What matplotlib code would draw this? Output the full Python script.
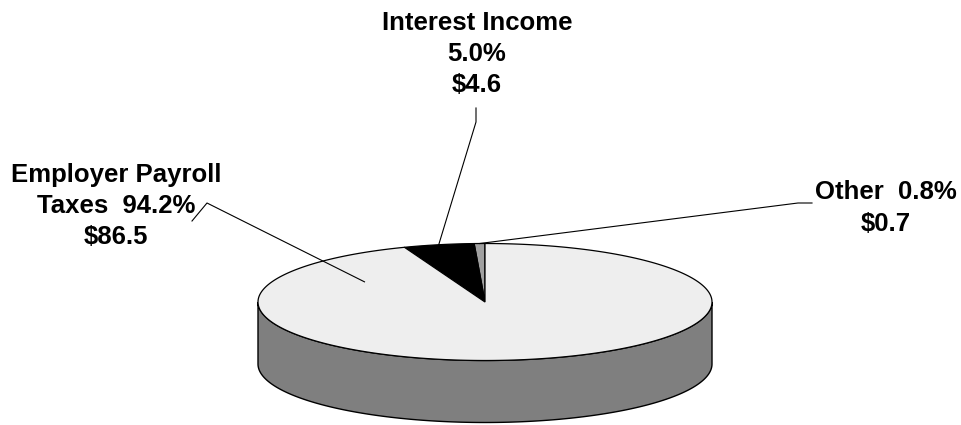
import numpy as np
import matplotlib
matplotlib.use("Agg")
import matplotlib.pyplot as plt

# Revenue sources (billions of dollars)
categories = ["Other", "Interest Income", "Employer Payroll\nTaxes"]
amounts = [0.7, 4.6, 86.5]
top_colors = ["#a0a0a0", "#000000", "#eeeeee"]
side_colors = ["#606060", "#000000", "#7f7f7f"]

plt.rcParams["font.family"] = ["Liberation Sans", "DejaVu Sans"]

W, H = 961, 425
fig = plt.figure(figsize=(W / 100, H / 100), dpi=100)
ax = fig.add_axes([0, 0, 1, 1])
ax.set_xlim(0, W)
ax.set_ylim(H, 0)
ax.axis("off")

# pie geometry (pixel space, y downward)
cx, cy = 485.0, 302.0
a, b = 227.0, 58.5
depth = 62.0


def ell(t, r=1.0, dy=0.0):
    t = np.radians(t)
    return cx + r * a * np.cos(t), cy - r * b * np.sin(t) + dy


total = float(np.sum(amounts))
fracs = np.array(amounts) / total
starts = 90 + 360 * np.concatenate([[0], np.cumsum(fracs)[:-1]])
ends = 90 + 360 * np.cumsum(fracs)

# side wall: visible front half (angles 180..360)
for s, e, sc in zip(starts, ends, side_colors):
    lo, hi = max(s, 180), min(e, 360)
    if s > 360:
        lo, hi = max(s - 360, 180), min(e - 360, 360)
    if hi <= lo:
        continue
    t = np.linspace(lo, hi, 200)
    xt, yt = ell(t)
    xb, yb = ell(t[::-1], dy=depth)
    ax.fill(np.r_[xt, xb], np.r_[yt, yb], facecolor=sc, edgecolor="black",
            linewidth=1.0, zorder=1)

# top face wedges
for s, e, tc in zip(starts, ends, top_colors):
    t = np.linspace(s, e, 400)
    xs, ys = ell(t)
    ax.fill(np.r_[cx, xs, cx], np.r_[cy, ys, cy], facecolor=tc,
            edgecolor="black", linewidth=0.9, zorder=2)

mids = (starts + ends) / 2
pcts = [100 * f for f in fracs]

font = dict(fontsize=18.5, fontweight="bold", ha="center", va="center",
            linespacing=1.38, color="black", zorder=5)

# Other
ax.text(886, 208, f"{categories[0]}  {pcts[0]:.1f}%\n${amounts[0]:.1f}", **font)
px, py = ell(mids[0])
ax.plot([812, 798, px], [203, 203, py], color="black", lw=0.8, zorder=4)

# Interest Income
ax.text(477, 54, f"{categories[1]}\n{pcts[1]:.1f}%\n${amounts[1]:.1f}", **font)
px, py = ell(mids[1])
ax.plot([476, 476, px], [108, 122, py], color="black", lw=0.8, zorder=4)

# Employer Payroll Taxes
ax.text(116, 206, f"{categories[2]}  {pcts[2]:.1f}%\n${amounts[2]:.1f}", **font)
px, py = ell(147, r=0.633)
ax.plot([192, 207, px], [221, 203, py], color="black", lw=0.8, zorder=4)

fig.savefig("out.png", dpi=100)
